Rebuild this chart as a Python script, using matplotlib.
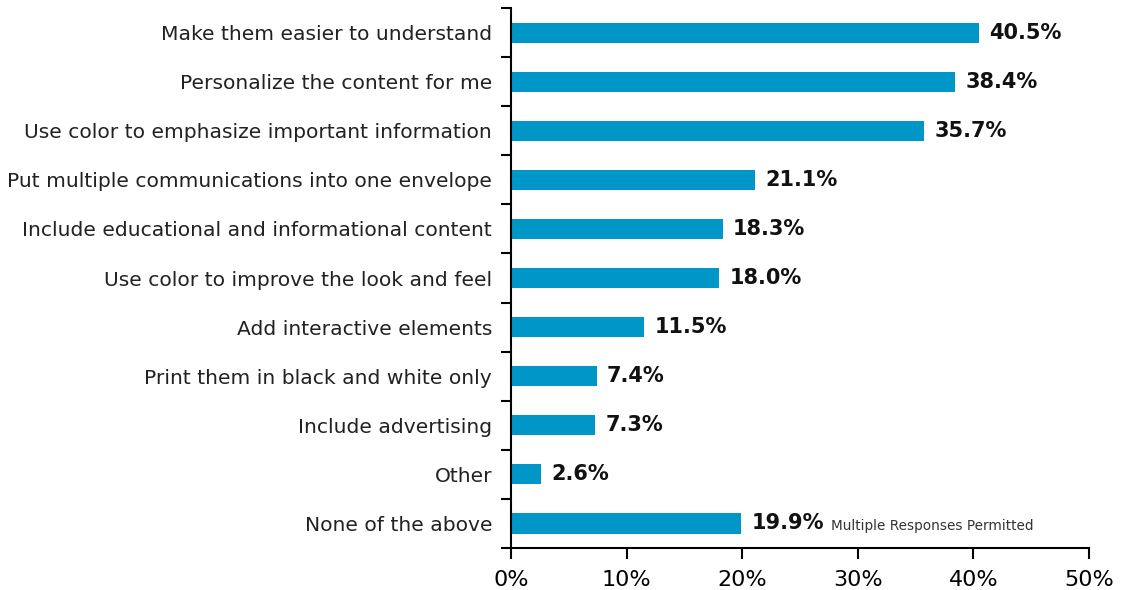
import matplotlib.pyplot as plt
import numpy as np

categories = [
    'Make them easier to understand',
    'Personalize the content for me',
    'Use color to emphasize important information',
    'Put multiple communications into one envelope',
    'Include educational and informational content',
    'Use color to improve the look and feel',
    'Add interactive elements',
    'Print them in black and white only',
    'Include advertising',
    'Other',
    'None of the above',
]
values = [40.5, 38.4, 35.7, 21.1, 18.3, 18.0, 11.5, 7.4, 7.3, 2.6, 19.9]
xticks = [0, 10, 20, 30, 40, 50]
note = 'Multiple Responses Permitted'

bar_color = '#0096C8'

fig = plt.figure(figsize=(11.22, 5.9), dpi=100)
ax = fig.add_axes([0.4554, 0.0712, 0.5152, 0.9152])

y = np.arange(len(categories))
ax.barh(y, values, height=0.41, color=bar_color)
ax.set_ylim(len(categories) - 0.5, -0.5)
ax.set_xlim(0, 50)

ax.set_yticks(y)
ax.set_yticklabels(categories, fontsize=14.6, color='#222222')
ax.set_yticks(np.arange(len(categories) + 1) - 0.5, minor=True)
ax.tick_params(axis='y', which='major', length=0, pad=13.5)
ax.tick_params(axis='y', which='minor', length=7, width=1.5)

ax.set_xticks(xticks)
ax.set_xticklabels(['%d%%' % t for t in xticks], fontsize=16)
ax.tick_params(axis='x', length=8, width=1.5, pad=8)

for s in ['top', 'right']:
    ax.spines[s].set_visible(False)
for s in ['left', 'bottom']:
    ax.spines[s].set_linewidth(1.5)

for i, v in enumerate(values):
    ax.annotate('%.1f%%' % v, (v, i), xytext=(7.5, 0), textcoords='offset points',
                va='center', ha='left', fontsize=15, fontweight='bold', color='#111111')

last = len(values) - 1
ax.annotate(note, (values[last], last), xytext=(65, -2), textcoords='offset points',
            va='center', ha='left', fontsize=9.8, color='#333333')

fig.savefig('out.png', dpi=100)
